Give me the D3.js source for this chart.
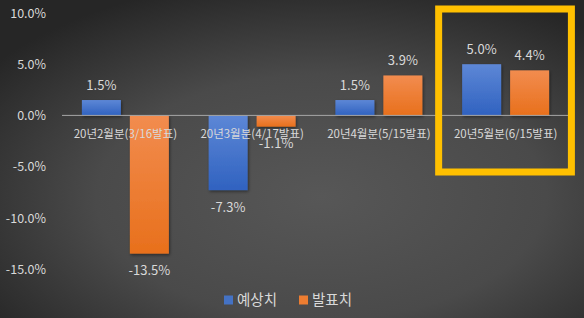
<!DOCTYPE html>
<html>
<head>
<meta charset="utf-8">
<script src="https://cdn.jsdelivr.net/npm/d3@7"></script>
<style>
  html, body { margin: 0; padding: 0; background: #333; }
  svg { display: block; }
  text { font-family: "Noto Sans CJK KR", "Noto Sans", sans-serif; }
</style>
</head>
<body>
<svg id="chart" width="584" height="318"></svg>
<script>
// Monthly figures: forecast vs. announced (%)
const categories = ["20년2월분(3/16발표)", "20년3월분(4/17발표)", "20년4월분(5/15발표)", "20년5월분(6/15발표)"];
const seriesNames = ["예상치", "발표치"];
const forecast = [1.5, -7.3, 1.5, 5.0];
const announced = [-13.5, -1.1, 3.9, 4.4];
const yTicks = [-15, -10, -5, 0, 5, 10];
const highlightIndex = 3;

const W = 584, H = 318;
const plot = { left: 62, right: 569, top: 13, bottom: 269 };
const colors = {
  "예상치": { top: "#5d87d6", bottom: "#3062c0", solid: "#4472c4" },
  "발표치": { top: "#f28c4f", bottom: "#e8701c", solid: "#ed7d31" }
};
const textColor = "#d9d9d9";

// Percent format with a plain hyphen as the minus sign
const locale = d3.formatLocale({ decimal: ".", thousands: ",", grouping: [3], currency: ["", ""], minus: "-" });
const pct = v => locale.format(".1f")(v) + "%";

const rows = categories.map((c, i) => ({
  category: c,
  values: [
    { series: seriesNames[0], value: forecast[i] },
    { series: seriesNames[1], value: announced[i] }
  ]
}));

const svg = d3.select("#chart");
const defs = svg.append("defs");

// Backdrop: radial shading, lighter toward the middle
const bg = defs.append("radialGradient").attr("id", "bgGrad")
  .attr("cx", "55%").attr("cy", "62%").attr("r", "70%");
bg.append("stop").attr("offset", "0%").attr("stop-color", "#575757");
bg.append("stop").attr("offset", "55%").attr("stop-color", "#4a4a4a");
bg.append("stop").attr("offset", "100%").attr("stop-color", "#262626");
svg.append("rect").attr("width", W).attr("height", H).attr("fill", "url(#bgGrad)");

// Vertical gradients for the bars
seriesNames.forEach((s, k) => {
  const g = defs.append("linearGradient").attr("id", "barGrad" + k)
    .attr("x1", 0).attr("y1", 0).attr("x2", 0).attr("y2", 1);
  g.append("stop").attr("offset", "0%").attr("stop-color", colors[s].top);
  g.append("stop").attr("offset", "100%").attr("stop-color", colors[s].bottom);
});

const shadow = defs.append("filter").attr("id", "barShadow")
  .attr("x", "-20%").attr("y", "-20%").attr("width", "150%").attr("height", "150%");
shadow.append("feDropShadow").attr("dx", 1).attr("dy", 1.5).attr("stdDeviation", 1.5)
  .attr("flood-color", "#000").attr("flood-opacity", 0.45);

const x0 = d3.scaleBand().domain(categories)
  .range([plot.left, plot.right]).paddingInner(0.314).paddingOuter(0.157);
const x1 = d3.scaleBand().domain(seriesNames)
  .range([0, x0.bandwidth()]).paddingInner(0.1875).paddingOuter(0);
const y = d3.scaleLinear().domain([-15, 10]).range([plot.bottom, plot.top]);

// Y axis labels
const yAxis = d3.axisLeft(y).tickValues(yTicks)
  .tickFormat(pct).tickSize(0).tickPadding(0);
const yg = svg.append("g").attr("transform", `translate(${plot.left - 16},0)`).call(yAxis);
yg.select(".domain").remove();
yg.selectAll("text").attr("fill", textColor).attr("font-size", 12.5).attr("dy", "0.35em");

// Bars
const groups = svg.append("g").selectAll("g").data(rows).join("g")
  .attr("transform", d => `translate(${x0(d.category)},0)`);

groups.selectAll("rect").data(d => d.values).join("rect")
  .attr("x", d => x1(d.series))
  .attr("width", x1.bandwidth())
  .attr("y", d => y(Math.max(0, d.value)))
  .attr("height", d => Math.abs(y(d.value) - y(0)))
  .attr("fill", d => `url(#barGrad${seriesNames.indexOf(d.series)})`)
  .attr("filter", "url(#barShadow)");

// Zero line
svg.append("line")
  .attr("x1", plot.left).attr("x2", plot.right)
  .attr("y1", y(0)).attr("y2", y(0))
  .attr("stroke", "#a6a6a6").attr("stroke-width", 1);

// Value labels
groups.selectAll("text.val").data(d => d.values).join("text")
  .attr("class", "val")
  .attr("x", d => x1(d.series) + x1.bandwidth() / 2)
  .attr("y", d => d.value >= 0 ? y(d.value) - 15 : y(d.value) + 17)
  .attr("dy", "0.35em")
  .attr("text-anchor", "middle")
  .attr("fill", textColor)
  .attr("font-size", 13)
  .text(d => pct(d.value));

// Category labels, sitting just below the zero line
const xAxis = d3.axisBottom(x0).tickSize(0).tickPadding(0);
const xg = svg.append("g").attr("transform", `translate(0,${y(0) + 19})`).call(xAxis);
xg.select(".domain").remove();
xg.selectAll("text").attr("fill", textColor).attr("font-size", 11.5).attr("dy", "0.35em").attr("y", 0);

// Highlight frame around the latest month
const hb = { x: x0(categories[highlightIndex]) };
svg.append("rect")
  .attr("x", hb.x - 23.5)
  .attr("y", 9)
  .attr("width", x0.step() + 6)
  .attr("height", 163)
  .attr("fill", "none")
  .attr("stroke", "#ffc000")
  .attr("stroke-width", 7);

// Legend
const legend = svg.append("g").attr("transform", "translate(224,300)");
const legendOffsets = [0, 75];
seriesNames.forEach((s, k) => {
  const g = legend.append("g").attr("transform", `translate(${legendOffsets[k]},0)`);
  g.append("rect").attr("x", 0).attr("y", -4.5).attr("width", 9).attr("height", 9)
    .attr("fill", colors[s].solid);
  g.append("text").attr("x", 13).attr("y", 0).attr("dy", "0.35em")
    .attr("fill", textColor).attr("font-size", 14.5).text(s);
});
</script>
</body>
</html>
